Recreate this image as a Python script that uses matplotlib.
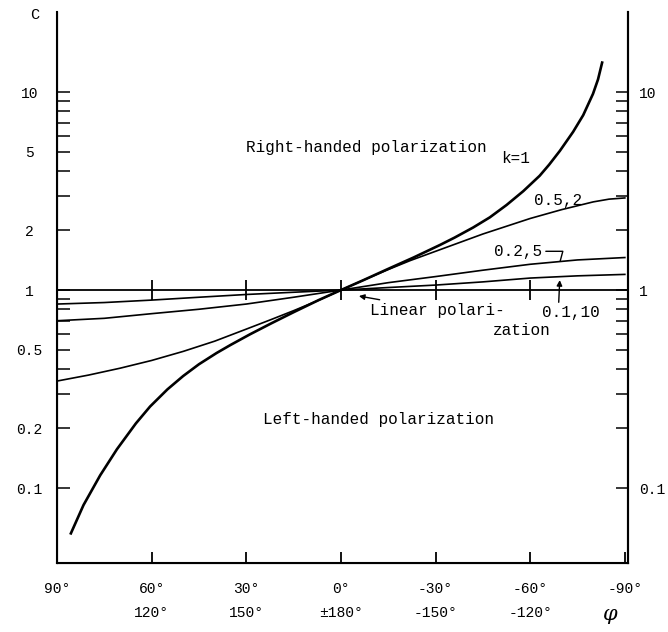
import numpy as np
import matplotlib.pyplot as plt

plt.rcParams['font.family'] = ['Liberation Mono', 'DejaVu Sans']

# phase angle (deg) and ratio C
phi_k1 = [85.6, 81.6, 76.3, 71, 65, 60.5, 55, 50, 45, 39.4, 35, 28.8, 22, 15, 7, 0,
          -7, -15, -23, -31.4, -36, -41.9, -47.2, -52.5, -57.8, -63, -66, -69.4,
          -73.6, -76.8, -79.9, -81.5, -82.8]
c_k1 = [0.059, 0.082, 0.116, 0.157, 0.212, 0.258, 0.315, 0.368, 0.422, 0.481, 0.528, 0.598,
        0.68, 0.773, 0.891, 1.0,
        1.12, 1.28, 1.46, 1.69, 1.84, 2.07, 2.33, 2.69, 3.16, 3.78, 4.3, 5.05,
        6.3, 7.65, 9.8, 11.6, 14.1]

phi_k05 = [90, 80, 70, 60, 50, 40, 30, 22, 15, 7, 0, -7, -15, -22, -30, -45, -60, -70,
           -80, -85, -90]
c_k05 = [0.347, 0.372, 0.403, 0.441, 0.49, 0.552, 0.635, 0.711, 0.787, 0.889, 1.0,
         1.12, 1.27, 1.41, 1.57, 1.92, 2.3, 2.55, 2.79, 2.88, 2.92]

phi_k02 = [90, 75, 60, 45, 30, 15, 0, -15, -30, -45, -60, -75, -90]
c_k02 = [0.70, 0.72, 0.76, 0.80, 0.85, 0.92, 1.0, 1.09, 1.17, 1.26, 1.35, 1.42, 1.46]

phi_k01 = [90, 75, 60, 45, 30, 15, 0, -15, -30, -45, -60, -75, -90]
c_k01 = [0.85, 0.865, 0.89, 0.92, 0.95, 0.975, 1.0, 1.03, 1.06, 1.10, 1.15, 1.18, 1.2]

x_ticks = [90, 60, 30, 0, -30, -60, -90]
x_labels = ['90°', '60°\n120°', '30°\n150°', '0°\n±180°', '-30°\n-150°', '-60°\n-120°', '-90°']
y_left = [0.1, 0.2, 0.5, 1, 2, 5, 10]
y_left_lab = ['0.1', '0.2', '0.5', '1', '2', '5', '10']
y_right_lab = ['0.1', '', '', '1', '', '', '10']
y_minor = [0.3, 0.4, 0.6, 0.7, 0.8, 0.9, 3, 4, 6, 7, 8, 9]

W, H = 668, 632
fig = plt.figure(figsize=(W / 100, H / 100), dpi=100)
ax = fig.add_axes([57 / W, 1 - 563 / H, (628 - 57) / W, (563 - 12) / H])

ax.set_yscale('log')
ax.set_xlim(90, -91)
ax.set_ylim(0.0418, 25.4)

ax.plot(phi_k1, c_k1, color='black', lw=1.9)
ax.plot(phi_k05, c_k05, color='black', lw=1.2)
ax.plot(phi_k02, c_k02, color='black', lw=1.2)
ax.plot(phi_k01, c_k01, color='black', lw=1.2)

# linear polarization line with its tick marks
ax.axhline(1, color='black', lw=1.3)
half = 10 ** (10 / 198)
ax.vlines([60, 30, 0, -30, -60], 1 / half, half, color='black', lw=1.3)

for s in ['left', 'bottom', 'right']:
    ax.spines[s].set_linewidth(1.5)
ax.spines['top'].set_visible(False)

ax.set_xticks(x_ticks)
ax.set_xticklabels(x_labels, fontsize=10.5, linespacing=1.9)
ax.tick_params(axis='x', direction='in', length=8, width=1.3, pad=14)

ax.yaxis.set_major_locator(plt.FixedLocator(y_left))
ax.yaxis.set_minor_locator(plt.FixedLocator(y_minor))
ax.yaxis.set_minor_formatter(plt.NullFormatter())
ax.set_yticklabels(y_left_lab, fontsize=10.5, ha='center')
ax.tick_params(axis='y', which='both', direction='in', length=9, width=1.1, pad=20)

ax2 = ax.twinx()
ax2.set_yscale('log')
ax2.set_ylim(ax.get_ylim())
ax2.yaxis.set_major_locator(plt.FixedLocator(y_left))
ax2.yaxis.set_minor_locator(plt.FixedLocator(y_minor))
ax2.yaxis.set_minor_formatter(plt.NullFormatter())
ax2.set_yticks(y_left)
ax2.set_yticklabels(y_right_lab, fontsize=10.5)
ax2.tick_params(axis='y', which='both', direction='in', length=9, width=1.1, pad=8)
ax2.spines['top'].set_visible(False)
ax2.spines['right'].set_linewidth(1.5)

# annotations
ax.text(-8.2, 5.27, 'Right-handed polarization', fontsize=11.5, ha='center', va='center')
ax.text(-55.4, 4.6, 'k=1', fontsize=11.5, ha='center', va='center')
ax.text(-68.7, 2.85, '0.5,2', fontsize=11.5, ha='center', va='center')
ax.annotate('0.2,5', xy=(-69.5, 1.40), xytext=(-56, 1.57), fontsize=11.5,
            ha='center', va='center',
            arrowprops=dict(arrowstyle='-', color='black', lw=1,
                            connectionstyle='angle,angleA=0,angleB=75', shrinkA=1, shrinkB=0))
ax.annotate('', xy=(-69.4, 1.16), xytext=(-69, 0.84),
            arrowprops=dict(arrowstyle='-|>', color='black', lw=1, mutation_scale=8))
ax.text(-72.9, 0.774, '0.1,10', fontsize=11.5, ha='center', va='center')
ax.annotate('Linear polari-', xy=(-5.7, 0.933), xytext=(-9.2, 0.793), fontsize=11.5,
            ha='left', va='center',
            arrowprops=dict(arrowstyle='-|>', color='black', lw=1, mutation_scale=8,
                            shrinkA=0, shrinkB=0))
ax.text(-48.1, 0.628, 'zation', fontsize=11.5, ha='left', va='center')
ax.text(-12.0, 0.223, 'Left-handed polarization', fontsize=11.5, ha='center', va='center')

fig.text(35 / W, 1 - 15 / H, 'C', fontsize=11, ha='center', va='center')
fig.text(610 / W, 1 - 615 / H, 'φ', fontsize=15, ha='center', va='center', style='italic',
         family=['DejaVu Serif'])

fig.savefig('out.png', dpi=100, facecolor='white')
